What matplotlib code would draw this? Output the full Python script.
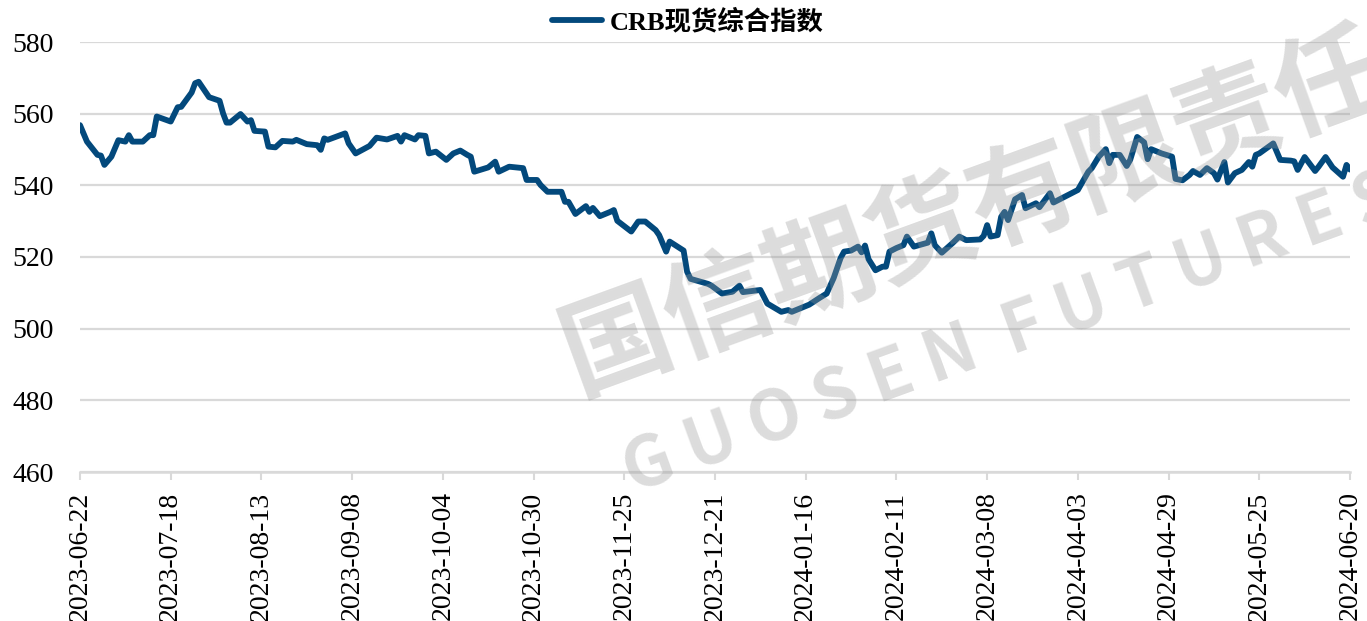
import matplotlib
matplotlib.use("Agg")
import matplotlib.pyplot as plt
import matplotlib.dates as mdates
import pandas as pd

# CRB现货综合指数
dates = [
    "2023-06-22", "2023-06-24", "2023-06-27", "2023-06-28", "2023-06-29", "2023-07-01",
    "2023-07-03", "2023-07-05", "2023-07-06", "2023-07-07", "2023-07-10", "2023-07-12",
    "2023-07-13", "2023-07-14", "2023-07-18", "2023-07-20", "2023-07-21", "2023-07-24",
    "2023-07-25", "2023-07-26", "2023-07-29", "2023-08-01", "2023-08-02", "2023-08-03",
    "2023-08-04", "2023-08-07", "2023-08-09", "2023-08-10", "2023-08-11", "2023-08-14",
    "2023-08-15", "2023-08-17", "2023-08-19", "2023-08-22", "2023-08-23", "2023-08-26",
    "2023-08-29", "2023-08-30", "2023-08-31", "2023-09-01", "2023-09-06", "2023-09-07",
    "2023-09-09", "2023-09-13", "2023-09-15", "2023-09-18", "2023-09-21", "2023-09-22",
    "2023-09-23", "2023-09-26", "2023-09-27", "2023-09-29", "2023-09-30", "2023-10-02",
    "2023-10-05", "2023-10-07", "2023-10-09", "2023-10-11", "2023-10-12", "2023-10-13",
    "2023-10-17", "2023-10-19", "2023-10-20", "2023-10-23", "2023-10-27", "2023-10-28",
    "2023-10-31", "2023-11-01", "2023-11-03", "2023-11-07", "2023-11-08", "2023-11-09",
    "2023-11-11", "2023-11-14", "2023-11-15", "2023-11-16", "2023-11-18", "2023-11-21",
    "2023-11-22", "2023-11-23", "2023-11-27", "2023-11-29", "2023-12-01", "2023-12-04",
    "2023-12-05", "2023-12-07", "2023-12-08", "2023-12-12", "2023-12-13", "2023-12-14",
    "2023-12-19", "2023-12-20", "2023-12-23", "2023-12-26", "2023-12-28", "2023-12-29",
    "2024-01-03", "2024-01-05", "2024-01-09", "2024-01-11", "2024-01-12", "2024-01-17",
    "2024-01-20", "2024-01-22", "2024-01-24", "2024-01-26", "2024-01-27", "2024-01-29",
    "2024-01-31", "2024-02-01", "2024-02-02", "2024-02-03", "2024-02-05", "2024-02-07",
    "2024-02-08", "2024-02-09", "2024-02-11", "2024-02-13", "2024-02-14", "2024-02-16",
    "2024-02-20", "2024-02-21", "2024-02-22", "2024-02-24", "2024-02-27", "2024-02-29",
    "2024-03-01", "2024-03-02", "2024-03-06", "2024-03-07", "2024-03-08", "2024-03-09",
    "2024-03-11", "2024-03-12", "2024-03-13", "2024-03-14", "2024-03-16", "2024-03-18",
    "2024-03-19", "2024-03-22", "2024-03-23", "2024-03-26", "2024-03-27", "2024-04-03",
    "2024-04-06", "2024-04-07", "2024-04-09", "2024-04-11", "2024-04-12", "2024-04-13",
    "2024-04-15", "2024-04-17", "2024-04-18", "2024-04-20", "2024-04-22", "2024-04-23",
    "2024-04-24", "2024-04-27", "2024-04-30", "2024-05-01", "2024-05-03", "2024-05-05",
    "2024-05-06", "2024-05-08", "2024-05-10", "2024-05-12", "2024-05-13", "2024-05-15",
    "2024-05-16", "2024-05-18", "2024-05-20", "2024-05-22", "2024-05-23", "2024-05-24",
    "2024-05-25", "2024-05-29", "2024-05-31", "2024-06-03", "2024-06-04", "2024-06-05",
    "2024-06-07", "2024-06-10", "2024-06-11", "2024-06-13", "2024-06-15", "2024-06-18",
    "2024-06-19", "2024-06-20",
]
crb = [
    556.8, 552.2, 548.5, 548.3, 545.7, 548.0,
    552.6, 552.2, 554.0, 552.2, 552.2, 554.0,
    554.0, 559.2, 557.8, 561.8, 561.9, 565.9,
    568.5, 568.9, 564.6, 563.6, 560.1, 557.5,
    557.5, 559.9, 557.8, 558.2, 555.2, 555.0,
    550.8, 550.6, 552.4, 552.2, 552.7, 551.5,
    551.2, 549.9, 553.1, 552.7, 554.5, 551.7,
    548.9, 551.0, 553.3, 552.8, 553.8, 552.2,
    554.0, 552.8, 554.0, 553.8, 548.9, 549.4,
    547.1, 548.9, 549.7, 548.5, 548.0, 543.8,
    545.0, 546.6, 543.8, 545.2, 544.8, 541.5,
    541.5, 540.1, 538.2, 538.2, 535.4, 535.4,
    532.0, 534.2, 532.6, 533.7, 531.4, 532.6,
    533.1, 530.1, 527.1, 529.9, 529.9, 527.5,
    526.1, 521.5, 524.3, 521.8, 515.9, 513.9,
    512.5, 512.0, 509.8, 510.3, 512.0, 510.2,
    510.8, 507.0, 504.7, 505.2, 504.7, 506.7,
    508.6, 509.8, 514.1, 519.7, 521.5, 521.8,
    522.9, 521.3, 523.2, 519.4, 516.3, 517.3,
    517.3, 521.5, 522.5, 523.3, 525.7, 522.9,
    524.0, 526.6, 523.3, 521.2, 523.8, 525.7,
    525.2, 524.7, 524.9, 525.9, 528.9, 525.7,
    526.1, 531.2, 532.6, 530.3, 536.1, 537.3,
    533.6, 535.0, 533.9, 537.8, 535.2, 538.7,
    543.8, 544.8, 548.0, 550.1, 546.2, 548.5,
    548.5, 545.4, 547.1, 553.5, 552.0, 547.3,
    550.1, 548.9, 548.0, 541.8, 541.4, 542.9,
    544.0, 542.9, 544.8, 543.4, 541.6, 546.5,
    540.8, 543.4, 544.3, 546.5, 545.2, 548.5,
    548.9, 551.7, 547.1, 546.9, 546.7, 544.3,
    547.9, 544.0, 545.2, 547.9, 545.0, 542.4,
    545.7, 544.4,
]

tick_dates = pd.date_range("2023-06-22", "2024-06-20", freq="26D")
y_ticks = [460, 480, 500, 520, 540, 560, 580]
series_name = "CRB现货综合指数"

line_color = "#03497c"
grid_color = "#d9d9d9"
serif = ["Liberation Serif", "Noto Sans CJK SC"]

fig = plt.figure(figsize=(13.67, 6.21), dpi=100)
ax = fig.add_axes([80 / 1367, 1 - 472 / 621, 1270 / 1367, 430 / 621])

x = pd.to_datetime(dates)
ax.plot(x, crb, color=line_color, lw=4.2, solid_joinstyle="round",
        solid_capstyle="round", label=series_name, zorder=3)

ax.set_xlim(tick_dates[0], tick_dates[-1])
ax.set_ylim(460, 580)
ax.set_yticks(y_ticks)
ax.set_xticks(tick_dates)
ax.xaxis.set_major_formatter(mdates.DateFormatter("%Y-%m-%d"))
ax.grid(axis="y", color=grid_color, lw=1.6)
ax.set_axisbelow(True)

for side in ["left", "right", "top"]:
    ax.spines[side].set_visible(False)
ax.spines["bottom"].set_color(grid_color)
ax.spines["bottom"].set_linewidth(1.8)

ax.tick_params(axis="y", length=0, pad=19, labelsize=20)
ax.tick_params(axis="x", length=6, width=1.5, color=grid_color, pad=8,
               labelsize=20, labelrotation=90)
for lab in ax.get_xticklabels() + ax.get_yticklabels():
    lab.set_family(serif)

fig.legend(loc="center", bbox_to_anchor=(0.503, 0.965), frameon=False,
           handlelength=1.9, handletextpad=0.3,
           prop={"family": serif, "size": 19, "weight": "bold"})

# watermark
wm = dict(family=["Noto Sans CJK SC", "DejaVu Sans"], weight="bold",
          color="#9a9a9a", alpha=0.34, rotation=20, rotation_mode="anchor",
          ha="left", va="center")
fig.text(566 / 1367, 1 - 362 / 621, "国信期货有限责任公司", fontsize=78, **wm)
fig.text(626 / 1367, 1 - 474 / 621, "G U O S E N  F U T U R E S  C O .", fontsize=50, **wm)

fig.savefig("out.png", dpi=100)
